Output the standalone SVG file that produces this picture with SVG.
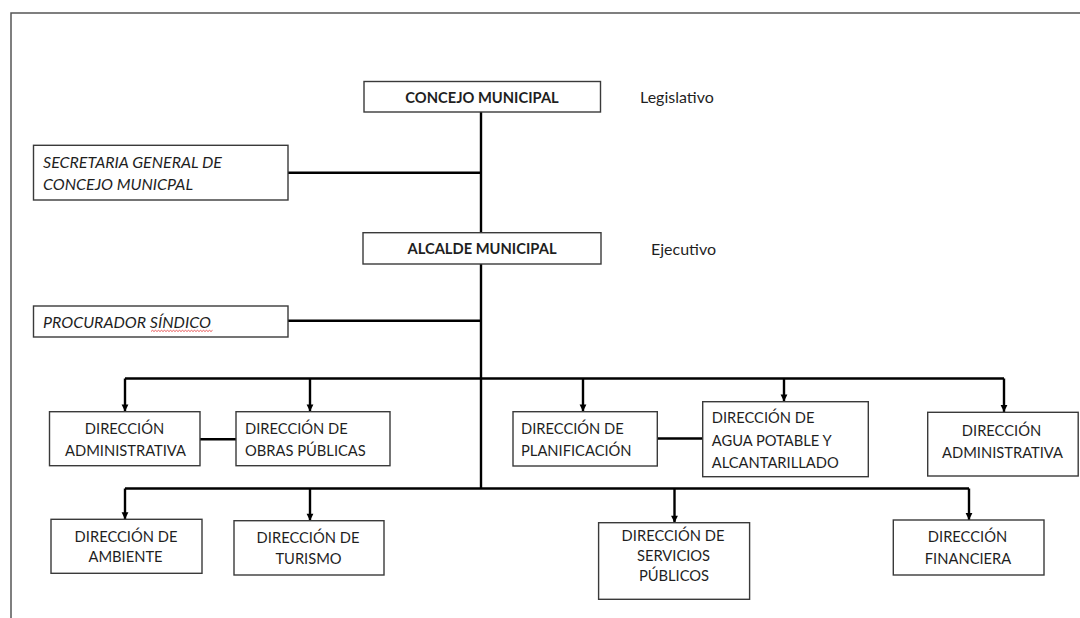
<svg xmlns="http://www.w3.org/2000/svg" width="1080" height="618" viewBox="0 0 1080 618">
  <style>
    .box { fill: #ffffff; stroke: #3a3a3a; stroke-width: 1.4; }
    .t { font-family: Lato, "Open Sans", "Liberation Sans", sans-serif; font-size: 16px; fill: #1f1f1f; }
    .b { font-weight: bold; }
    .i { font-style: italic; }
    .c { text-anchor: middle; }
    .wire { fill: none; stroke: #000000; stroke-width: 2.4; }
    .drop { fill: none; stroke: #000000; stroke-width: 2.4; marker-end: url(#arrow); }
    .frame { fill: none; stroke: #555555; stroke-width: 1.5; }
  </style>
  <defs>
    <marker id="arrow" markerUnits="userSpaceOnUse" markerWidth="8" markerHeight="8" viewBox="0 0 8 8" refX="4" refY="8" orient="0">
      <path d="M0.6 1 L7.4 1 L4 8 Z" fill="#000000"/>
    </marker>
  </defs>

  <rect width="1080" height="618" fill="#ffffff"/>

  <!-- page frame -->
  <path class="frame" d="M11 618 V13 H1080"/>

  <!-- connectors -->
  <g id="connectors">
    <path class="wire" d="M481 112 V233"/>
    <path class="wire" d="M481 264 V488.5"/>
    <path class="wire" d="M288 172.7 H481"/>
    <path class="wire" d="M288 320.7 H481"/>
    <path class="wire" d="M125 378.5 H1004"/>
    <path class="drop" d="M125 378.5 V411.5"/>
    <path class="drop" d="M310 378.5 V411.5"/>
    <path class="drop" d="M583 378.5 V411.5"/>
    <path class="drop" d="M784 378.5 V401.5"/>
    <path class="drop" d="M1004 378.5 V412"/>
    <path class="wire" d="M200 439.3 H236"/>
    <path class="wire" d="M657 438.5 H703"/>
    <path class="wire" d="M125 488.5 H969"/>
    <path class="drop" d="M125 488.5 V519.3"/>
    <path class="drop" d="M310 488.5 V520.7"/>
    <path class="drop" d="M674.5 488.5 V522.7"/>
    <path class="drop" d="M969 488.5 V520"/>
  </g>

  <g id="concejo">
    <rect class="box" x="364" y="81.5" width="236.5" height="30.5"/>
    <text class="t b c" transform="translate(482 103.3) scale(0.92 1)">CONCEJO MUNICIPAL</text>
  </g>
  <g id="legislativo">
    <text class="t" x="640" y="103">Legislativo</text>
  </g>

  <g id="secretaria">
    <rect class="box" x="33.5" y="145.3" width="254.5" height="54.7"/>
    <text class="t i" x="43" y="168">SECRETARIA GENERAL DE</text>
    <text class="t i" x="43" y="190">CONCEJO MUNICPAL</text>
  </g>

  <g id="alcalde">
    <rect class="box" x="363" y="232.7" width="238" height="31.3"/>
    <text class="t b c" transform="translate(482 254) scale(0.92 1)">ALCALDE MUNICIPAL</text>
  </g>
  <g id="ejecutivo">
    <text class="t" x="651" y="255">Ejecutivo</text>
  </g>

  <g id="procurador">
    <rect class="box" x="33.5" y="306" width="254.5" height="31"/>
    <text class="t i" x="43" y="328">PROCURADOR SÍNDICO</text>
    <path d="M151 331.5 l1.5 -1.2 l1.5 1.2 l1.5 -1.2 l1.5 1.2 l1.5 -1.2 l1.5 1.2 l1.5 -1.2 l1.5 1.2 l1.5 -1.2 l1.5 1.2 l1.5 -1.2 l1.5 1.2 l1.5 -1.2 l1.5 1.2 l1.5 -1.2 l1.5 1.2 l1.5 -1.2 l1.5 1.2 l1.5 -1.2 l1.5 1.2 l1.5 -1.2 l1.5 1.2 l1.5 -1.2 l1.5 1.2 l1.5 -1.2 l1.5 1.2 l1.5 -1.2 l1.5 1.2 l1.5 -1.2 l1.5 1.2 l1.5 -1.2 l1.5 1.2 l1.5 -1.2 l1.5 1.2 l1.5 -1.2 l1.5 1.2 l1.5 -1.2 l1.5 1.2 l1.5 -1.2 l1.5 1.2 l1.5 -1.2" fill="none" stroke="#e03030" stroke-width="0.8"/>
  </g>

  <g id="dir-administrativa-1">
    <rect class="box" x="49.5" y="411.7" width="150.5" height="54"/>
    <text class="t c" transform="translate(124.5 434.3) scale(0.92 1)">DIRECCIÓN</text>
    <text class="t c" transform="translate(125.5 455.8) scale(0.92 1)">ADMINISTRATIVA</text>
  </g>

  <g id="dir-obras">
    <rect class="box" x="236" y="411.7" width="154" height="54"/>
    <text class="t" transform="translate(245 434.3) scale(0.92 1)">DIRECCIÓN DE</text>
    <text class="t" transform="translate(245 455.8) scale(0.92 1)">OBRAS PÚBLICAS</text>
  </g>

  <g id="dir-planificacion">
    <rect class="box" x="513" y="411.7" width="144.3" height="54.3"/>
    <text class="t" transform="translate(521 434.3) scale(0.92 1)">DIRECCIÓN DE</text>
    <text class="t" transform="translate(521 455.8) scale(0.92 1)">PLANIFICACIÓN</text>
  </g>

  <g id="dir-agua">
    <rect class="box" x="702.7" y="401.7" width="165.6" height="75"/>
    <text class="t" transform="translate(711.7 423) scale(0.92 1)">DIRECCIÓN DE</text>
    <text class="t" transform="translate(711.7 445.5) scale(0.92 1)">AGUA POTABLE Y</text>
    <text class="t" transform="translate(711.7 468) scale(0.92 1)">ALCANTARILLADO</text>
  </g>

  <g id="dir-administrativa-2">
    <rect class="box" x="927.7" y="412.3" width="150.5" height="63.7"/>
    <text class="t c" transform="translate(1001.5 435.5) scale(0.92 1)">DIRECCIÓN</text>
    <text class="t c" transform="translate(1002.5 457.5) scale(0.92 1)">ADMINISTRATIVA</text>
  </g>

  <g id="dir-ambiente">
    <rect class="box" x="51" y="519.3" width="151" height="54"/>
    <text class="t c" transform="translate(126 541.5) scale(0.92 1)">DIRECCIÓN DE</text>
    <text class="t c" transform="translate(125.5 562) scale(0.92 1)">AMBIENTE</text>
  </g>

  <g id="dir-turismo">
    <rect class="box" x="234" y="520.7" width="150" height="54.3"/>
    <text class="t c" transform="translate(308 543) scale(0.92 1)">DIRECCIÓN DE</text>
    <text class="t c" transform="translate(308.5 564) scale(0.92 1)">TURISMO</text>
  </g>

  <g id="dir-servicios">
    <rect class="box" x="598.6" y="522.7" width="151" height="76.6"/>
    <text class="t c" transform="translate(673 541) scale(0.92 1)">DIRECCIÓN DE</text>
    <text class="t c" transform="translate(673.5 561) scale(0.92 1)">SERVICIOS</text>
    <text class="t c" transform="translate(674 581) scale(0.92 1)">PÚBLICOS</text>
  </g>

  <g id="dir-financiera">
    <rect class="box" x="893.3" y="520" width="150.7" height="55"/>
    <text class="t c" transform="translate(967.5 542.3) scale(0.92 1)">DIRECCIÓN</text>
    <text class="t c" transform="translate(968 563.5) scale(0.92 1)">FINANCIERA</text>
  </g>
</svg>
